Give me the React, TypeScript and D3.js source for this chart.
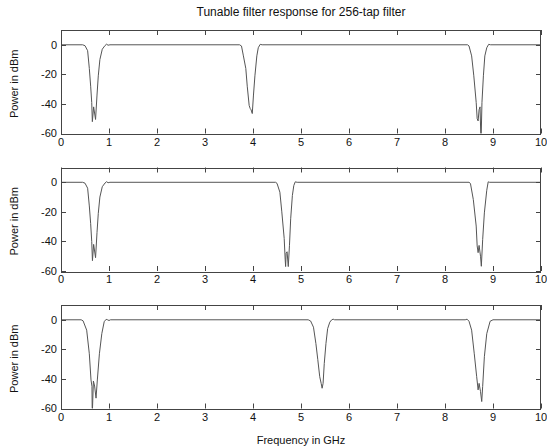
import { useEffect, useRef } from 'react'
import * as d3 from 'd3'

// values, [GHz, dBm]
const responseA: [number, number][] = [
  [0, 0], [0.45, 0], [0.5, -0.6], [0.555, -4], [0.59, -16], [0.618, -28], [0.64, -39],
  [0.653, -52], [0.68, -42], [0.72, -50.5], [0.75, -34], [0.777, -21], [0.81, -10],
  [0.86, -3], [0.917, -0.5], [0.95, 0.4], [0.98, -0.3], [1.02, 0],
  [3.72, 0], [3.76, -0.8], [3.8, -7.5], [3.85, -16], [3.88, -28], [3.92, -41], [3.94, -43],
  [3.96, -44], [3.985, -46.5], [4.01, -34], [4.04, -21], [4.08, -7.5], [4.11, -2],
  [4.15, 0.3], [4.19, 0],
  [8.47, 0], [8.5, -0.8], [8.555, -7.5], [8.6, -21], [8.65, -39], [8.67, -50], [8.69, -51.5],
  [8.71, -44], [8.73, -42], [8.745, -60], [8.755, -60], [8.77, -39], [8.8, -21],
  [8.83, -7.5], [8.87, -2], [8.91, 0.3], [8.95, 0], [10, 0],
]

const responseB: [number, number][] = [
  [0, 0], [0.45, 0], [0.5, -0.6], [0.555, -4], [0.59, -16], [0.618, -28], [0.64, -40],
  [0.655, -53], [0.68, -42], [0.72, -51], [0.75, -34], [0.777, -21], [0.81, -10],
  [0.86, -3], [0.917, -0.5], [0.95, 0.4], [0.98, -0.3], [1.02, 0],
  [4.47, 0], [4.5, -0.7], [4.56, -6.7], [4.6, -20], [4.65, -38], [4.67, -52], [4.68, -57],
  [4.69, -48], [4.71, -47], [4.735, -57], [4.76, -42.6], [4.785, -24.7], [4.82, -9],
  [4.85, -2.2], [4.88, 0.3], [4.92, 0],
  [8.5, 0], [8.53, -0.8], [8.59, -11.7], [8.65, -29.6], [8.67, -43], [8.69, -47.6],
  [8.71, -42.7], [8.74, -50], [8.757, -56.8], [8.785, -38.6], [8.82, -20.7], [8.87, -5.4],
  [8.9, 0.3], [8.93, 0], [10, 0],
]

const responseC: [number, number][] = [
  [0, 0], [0.42, 0], [0.46, -0.7], [0.535, -7], [0.59, -23], [0.625, -40.7], [0.645, -45],
  [0.65, -60], [0.656, -60], [0.675, -41.4], [0.7, -44.8], [0.73, -53], [0.757, -40.7],
  [0.8, -23], [0.85, -9.4], [0.9, -1.3], [0.94, 0.3], [0.97, 0], [1.0, -0.5], [1.03, 0],
  [5.15, 0], [5.2, -0.8], [5.26, -5], [5.31, -16], [5.35, -27], [5.39, -38.5], [5.42, -43],
  [5.44, -46.3], [5.46, -43], [5.485, -29.5], [5.52, -16], [5.555, -6], [5.6, -1.6],
  [5.64, 0], [5.67, 0.4], [5.7, 0],
  [8.42, 0], [8.46, 0.4], [8.5, -1], [8.555, -7], [8.61, -23], [8.66, -38.5], [8.69, -47.4],
  [8.71, -43], [8.74, -48.6], [8.765, -55.3], [8.785, -45], [8.82, -25], [8.87, -9.4],
  [8.94, -1], [9.0, 0], [10, 0],
]

const freqTicks = [0, 1, 2, 3, 4, 5, 6, 7, 8, 9, 10]
const powerTicks = [0, -20, -40, -60]
const powerDomain: [number, number] = [-60, 10]
const freqDomain: [number, number] = [0, 10]

const title = 'Tunable filter response for 256-tap filter'
const yLabel = 'Power in dBm'
const xLabel = 'Frequency in GHz'

export default function App() {
  const ref = useRef<SVGSVGElement | null>(null)

  useEffect(() => {
    const svg = d3.select(ref.current)
    svg.selectAll('*').remove()

    const left = 61
    const right = 541
    const tops = [30, 167.5, 305]
    const panelH = 103.5
    const font = '"Liberation Sans", Arial, sans-serif'
    const ink = '#444'

    svg
      .append('text')
      .attr('x', (left + right) / 2)
      .attr('y', 16)
      .attr('text-anchor', 'middle')
      .attr('font-family', font)
      .attr('font-size', 12)
      .attr('fill', '#111')
      .text(title)

    const x = d3.scaleLinear().domain(freqDomain).range([left, right])
    const series = [responseA, responseB, responseC]

    series.forEach((data, i) => {
      const top = tops[i]
      const bottom = top + panelH
      const y = d3.scaleLinear().domain(powerDomain).range([bottom, top])
      const g = svg.append('g')

      const clipId = `clip${i}`
      g.append('clipPath')
        .attr('id', clipId)
        .append('rect')
        .attr('x', left)
        .attr('y', top)
        .attr('width', right - left)
        .attr('height', panelH)

      const line = d3
        .line<[number, number]>()
        .x((d) => x(d[0]))
        .y((d) => y(d[1]))

      g.append('path')
        .attr('d', line(data))
        .attr('fill', 'none')
        .attr('stroke', '#555')
        .attr('stroke-width', 1)
        .attr('clip-path', `url(#${clipId})`)

      g.append('rect')
        .attr('x', left + 0.5)
        .attr('y', Math.round(top) + 0.5)
        .attr('width', right - left - 1)
        .attr('height', Math.round(panelH))
        .attr('fill', 'none')
        .attr('stroke', ink)
        .attr('stroke-width', 1)

      freqTicks.forEach((t) => {
        const px = Math.round(x(t)) + 0.5
        g.append('line')
          .attr('x1', px).attr('x2', px)
          .attr('y1', bottom).attr('y2', bottom - 5)
          .attr('stroke', ink)
        g.append('line')
          .attr('x1', px).attr('x2', px)
          .attr('y1', top).attr('y2', top + 5)
          .attr('stroke', ink)
        g.append('text')
          .attr('x', x(t))
          .attr('y', bottom + 12)
          .attr('text-anchor', 'middle')
          .attr('font-family', font)
          .attr('font-size', 11)
          .attr('fill', '#111')
          .text(t)
      })

      powerTicks.forEach((t) => {
        const py = Math.round(y(t)) + 0.5
        g.append('line')
          .attr('x1', left).attr('x2', left + 5)
          .attr('y1', py).attr('y2', py)
          .attr('stroke', ink)
        g.append('line')
          .attr('x1', right).attr('x2', right - 5)
          .attr('y1', py).attr('y2', py)
          .attr('stroke', ink)
        g.append('text')
          .attr('x', left - 4)
          .attr('y', y(t))
          .attr('dy', '0.35em')
          .attr('text-anchor', 'end')
          .attr('font-family', font)
          .attr('font-size', 11)
          .attr('fill', '#111')
          .text(t)
      })

      g.append('text')
        .attr('transform', `translate(18, ${top + panelH / 2 + 2}) rotate(-90)`)
        .attr('text-anchor', 'middle')
        .attr('font-family', font)
        .attr('font-size', 11)
        .attr('fill', '#111')
        .text(yLabel)
    })

    svg
      .append('text')
      .attr('x', (left + right) / 2)
      .attr('y', 444)
      .attr('text-anchor', 'middle')
      .attr('font-family', font)
      .attr('font-size', 11)
      .attr('fill', '#111')
      .text(xLabel)
  }, [])

  return (
    <svg
      ref={ref}
      width={547}
      height={448}
      style={{ position: 'absolute', left: 0, top: 0, background: '#fff' }}
    />
  )
}
